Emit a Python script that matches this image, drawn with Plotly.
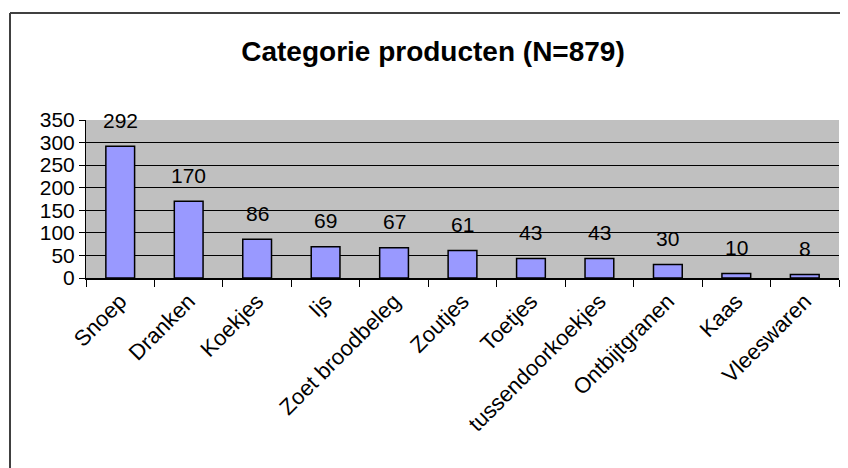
import plotly.graph_objects as go

categories = ["Snoep", "Dranken", "Koekjes", "Ijs", "Zoet broodbeleg", "Zoutjes",
              "Toetjes", "tussendoorkoekjes", "Ontbijtgranen", "Kaas", "Vleeswaren"]
values = [292, 170, 86, 69, 67, 61, 43, 43, 30, 10, 8]
y_ticks = [0, 50, 100, 150, 200, 250, 300, 350]
title_text = "Categorie producten (N=879)"

# page body has an 8px margin; the figure is sized to fill the rest of the window
OFF = 8
W, H = 848 - OFF, 468 - OFF
L, T = 86 - OFF, 120 - OFF
R = (OFF + W) - 839
B = (OFF + H) - 278
pw, ph = W - L - R, H - T - B
FONT = "Arial, Liberation Sans, sans-serif"

fig = go.Figure()
fig.add_trace(go.Bar(
    x=categories, y=values,
    marker=dict(color="#9999FF", line=dict(color="#000000", width=1.5)),
    width=0.42,
))

for c, v in zip(categories, values):
    fig.add_annotation(x=c, y=v, text=str(v), showarrow=False, yshift=26,
                       font=dict(family=FONT, size=21, color="#000"))

# outer frame (left and top edges)
fx0 = (10 - OFF - L) / pw
fy1 = (H - B - (13 - OFF)) / ph
fig.add_shape(type="line", xref="paper", yref="paper", x0=fx0, x1=fx0, y0=fy1, y1=-2,
              line=dict(color="#404040", width=2))
fig.add_shape(type="line", xref="paper", yref="paper", x0=fx0, x1=(W - L) / pw, y0=fy1, y1=fy1,
              line=dict(color="#404040", width=2))

fig.update_layout(
    width=W, height=H,
    margin=dict(l=L, r=R, t=T, b=B, autoexpand=False),
    paper_bgcolor="white", plot_bgcolor="#C0C0C0",
    showlegend=False,
    font=dict(family=FONT, size=21, color="#000"),
    title=dict(text="<b>" + title_text + "</b>", x=(433 - OFF) / W, xanchor="center",
               y=1 - (51 - OFF) / H, yanchor="middle",
               font=dict(family=FONT, size=28, color="#000")),
    bargap=0.58,
)
fig.update_xaxes(type="category", tickangle=-45, ticks="outside", tickson="boundaries",
                 ticklen=7, tickcolor="#000", showline=True, linecolor="#000", linewidth=1.5,
                 showgrid=False, tickfont=dict(family=FONT, size=22), automargin=False)
fig.update_yaxes(range=[0, 350], tickvals=y_ticks, ticks="outside", ticklen=6, tickcolor="#000",
                 showline=True, linecolor="#000", linewidth=1, showgrid=True, gridcolor="#000",
                 gridwidth=1, zeroline=False, tickfont=dict(family=FONT, size=21), automargin=False)

fig.write_html("out.html")
